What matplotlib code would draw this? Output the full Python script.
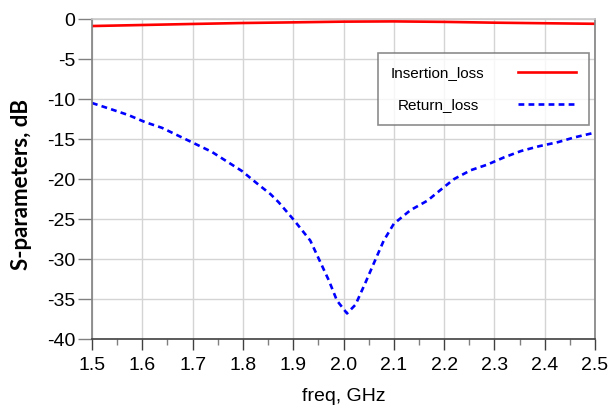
import numpy as np
import matplotlib
matplotlib.use('Agg')
import matplotlib.pyplot as plt
from matplotlib.ticker import MultipleLocator, FixedLocator

plt.rcParams['font.family'] = ['Liberation Sans', 'DejaVu Sans']
plt.rcParams['axes.unicode_minus'] = False

# insertion loss (S21), dB
f_il = [1.5, 1.6, 1.7, 1.8, 1.9, 2.0, 2.1, 2.2, 2.3, 2.4, 2.5]
il = [-0.88, -0.75, -0.62, -0.5, -0.42, -0.33, -0.3, -0.36, -0.46, -0.53, -0.6]

# return loss (S11), dB
f_rl = [1.5, 1.539, 1.572, 1.606, 1.639, 1.672, 1.705, 1.738, 1.768, 1.798,
        1.827, 1.855, 1.871, 1.901, 1.934, 1.954, 1.971, 1.987, 2.007, 2.024,
        2.044, 2.064, 2.080, 2.100, 2.133, 2.167, 2.200, 2.220, 2.253, 2.286,
        2.319, 2.353, 2.389, 2.426, 2.459, 2.5]
rl = [-10.5, -11.3, -12.0, -12.9, -13.6, -14.6, -15.6, -16.6, -17.8, -19.0,
      -20.5, -21.9, -22.9, -25.1, -27.7, -30.4, -32.7, -35.2, -36.8, -35.7,
      -32.9, -30.0, -27.7, -25.6, -23.9, -22.7, -21.0, -20.0, -18.9, -18.2,
      -17.3, -16.5, -15.9, -15.4, -14.8, -14.2]

xticks = [1.5, 1.6, 1.7, 1.8, 1.9, 2.0, 2.1, 2.2, 2.3, 2.4, 2.5]

fig = plt.figure(figsize=(6.08, 4.07), dpi=100)
ax = fig.add_axes([92/608, 68/407, 503/608, 320/407])

ax.plot(f_il, il, color='red', lw=1.9, label='Insertion_loss')
ax.plot(f_rl, rl, color='blue', lw=1.9, ls=(0, (2.2, 1.6)), label='Return_loss')

ax.set_xlim(1.5, 2.5)
ax.set_ylim(-40, 0)
ax.xaxis.set_major_locator(FixedLocator(xticks))
ax.set_xticklabels([f'{v:.1f}' for v in xticks])
ax.xaxis.set_minor_locator(MultipleLocator(0.05))
ax.yaxis.set_major_locator(MultipleLocator(5))

ax.grid(True, which='major', color='#d4d4d4', lw=1.0)
ax.set_axisbelow(True)

ax.tick_params(axis='x', which='major', length=8, width=1, color='#404040',
               labelsize=14, pad=5)
ax.tick_params(axis='x', which='minor', length=4, width=1, color='#808080')
ax.tick_params(axis='y', which='major', length=10, width=1, color='#808080',
               labelsize=14, pad=2)

ax.spines['left'].set_color('#808080')
ax.spines['right'].set_color('#808080')
ax.spines['bottom'].set_color('#404040')
ax.spines['top'].set_color('#c8c8c8')
for s in ax.spines.values():
    s.set_linewidth(1.2)

ax.set_xlabel('freq, GHz', fontsize=14, labelpad=10)
ax.set_ylabel('S-parameters, dB', fontsize=16, fontweight='bold',
              family=['Lato', 'DejaVu Sans'])
ax.yaxis.set_label_coords(-0.12, 0.484)

leg = ax.legend(loc='upper right', bbox_to_anchor=(0.988, 0.894), fontsize=11,
                frameon=True, fancybox=False, edgecolor='#707070',
                markerfirst=False, handlelength=3.8, handletextpad=2.2,
                borderpad=0.85, labelspacing=1.2, borderaxespad=0)
leg.get_frame().set_linewidth(1.2)
# centre the shorter label like the reference does
rows = leg._legend_handle_box.get_children()[0].get_children()
rows[1].sep += 4

plt.savefig('out.png')
